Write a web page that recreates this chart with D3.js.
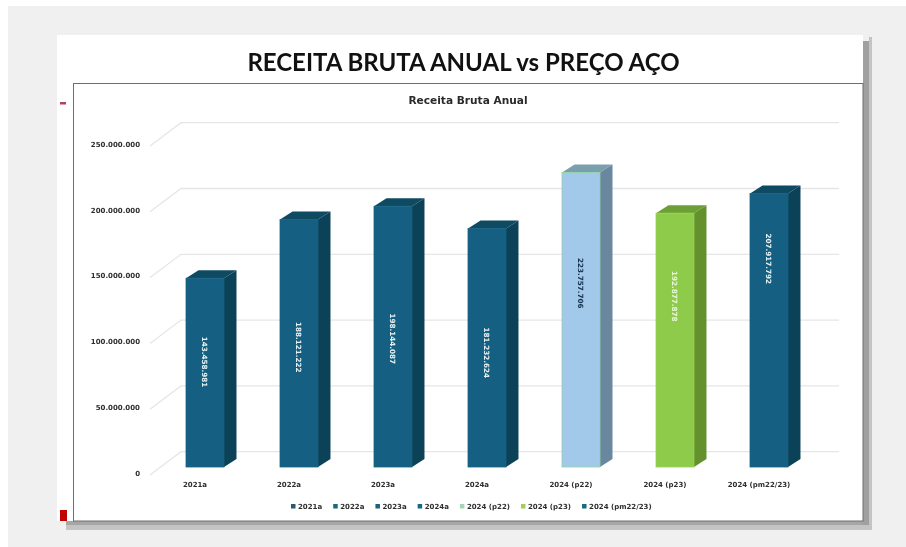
<!DOCTYPE html>
<html lang="pt">
<head>
<meta charset="UTF-8">
<title>Receita Bruta Anual</title>
<script src="https://d3js.org/d3.v7.min.js"></script>
<style>
    html, body { margin: 0; padding: 0; background: #fff; }
    svg { display: block; filter: blur(0.45px); }
    text { font-family: "DejaVu Sans", sans-serif; }
    .axisY text, .cat, .legend text { font-size: 7px; font-weight: bold; fill: #2e2e2e; }
    .axisY path { display: none; }
    .axisY line { display: none; }
    .val { font-size: 7.2px; font-weight: bold; }
</style>
</head>
<body>
<svg width="906" height="547"></svg>
<script>
    const categories = ['2021a', '2022a', '2023a', '2024a', '2024 (p22)', '2024 (p23)', '2024 (pm22/23)'];
    const values = [143458981, 188121222, 198144087, 181232624, 223757706, 192877878, 207917792];
    const yTicks = [0, 50000000, 100000000, 150000000, 200000000, 250000000];
    // how far up its bar each rotated label sits
    const labelAlong = [0.556, 0.484, 0.492, 0.479, 0.624, 0.673, 0.761];

    const faceColors = ['#156082', '#156082', '#156082', '#156082', '#a3c9ea', '#8ecb4a', '#156082'];
    const sideColors = ['#0c4257', '#0c4257', '#0c4257', '#0c4257', '#6a87a0', '#64902e', '#0c4257'];
    const topColors = ['#0f4a63', '#0f4a63', '#0f4a63', '#0f4a63', '#7aa0ae', '#6c9f34', '#0f4a63'];
    const edgeColors = ['#156082', '#156082', '#156082', '#156082', '#8ed2a6', '#9ad255', '#156082'];
    const labelColors = ['#e6f0f2', '#e6f0f2', '#e6f0f2', '#e6f0f2', '#17324d', '#e8f5d8', '#e6f0f2'];
    const legendColors = ['#2c5a6a', '#156b7f', '#1f6080', '#156b82', '#a4d6b6', '#a6cc5c', '#156b7f'];

    const svg = d3.select('svg');
    const dotted = d3.formatLocale({decimal: ',', thousands: '.', grouping: [3], currency: ['R$', '']}).format(',d');

    // page background and slide
    svg.append('rect').attr('x', -5).attr('y', -5).attr('width', 916).attr('height', 557).attr('fill', '#fff');
    svg.append('rect').attr('x', 8).attr('y', 6).attr('width', 903).attr('height', 546).attr('fill', '#f0f0f0');
    svg.append('rect').attr('x', 66).attr('y', 525).attr('width', 806).attr('height', 5).attr('fill', '#c4c4c4');
    svg.append('rect').attr('x', 869).attr('y', 37).attr('width', 3).attr('height', 493).attr('fill', '#c4c4c4');
    svg.append('rect').attr('x', 66).attr('y', 521).attr('width', 803).attr('height', 4).attr('fill', '#a6a6a6');
    svg.append('rect').attr('x', 863).attr('y', 41).attr('width', 6).attr('height', 484).attr('fill', '#a0a0a0');
    svg.append('rect').attr('x', 57).attr('y', 35).attr('width', 806).attr('height', 486).attr('fill', '#fff');

    svg.append('text').attr('x', 463.5).attr('y', 71).attr('text-anchor', 'middle')
        .style('font-family', 'Lato, sans-serif').style('font-weight', 'bold').style('font-size', '24px')
        .attr('fill', '#111').text('RECEITA BRUTA ANUAL vs PREÇO AÇO');

    svg.append('rect').attr('x', 73.5).attr('y', 83.5).attr('width', 789.5).attr('height', 437.5)
        .attr('fill', '#fff').attr('stroke', '#6e6e6e');

    svg.append('rect').attr('x', 60).attr('y', 102).attr('width', 6).attr('height', 2.5).attr('fill', '#b5405a');
    svg.append('rect').attr('x', 60).attr('y', 510).attr('width', 7).attr('height', 11).attr('fill', '#c00000');

    svg.append('text').attr('x', 468).attr('y', 104).attr('text-anchor', 'middle')
        .style('font-size', '10.6px').style('font-weight', 'bold').attr('fill', '#2a2a2a').text('Receita Bruta Anual');

    // scales, front plane of the bars
    const x = d3.scaleBand().domain(categories).range([158, 816]).paddingInner(0.596).paddingOuter(0.298);
    const y = d3.scaleLinear().domain([0, 250000000]).range([467, 138]);
    const depth = {x: 12.5, y: 8};
    const wall = {x0: 150, x1: 181, x2: 839, front: 8, back: -15.3};

    // 3D gridlines: floor diagonal then along the back wall
    svg.append('g').selectAll('path').data(yTicks).join('path')
        .attr('fill', 'none').attr('stroke', '#e6e6e6').attr('stroke-width', 1.3)
        .attr('d', function (d) {
            return d3.line()([[wall.x0, y(d) + wall.front], [wall.x1, y(d) + wall.back], [wall.x2, y(d) + wall.back]]);
        });

    svg.append('g').attr('class', 'axisY').attr('transform', 'translate(140,6)')
        .call(d3.axisLeft(y).tickValues(yTicks).tickFormat(dotted).tickSize(0).tickPadding(0));

    const rows = categories.map(function (c, i) { return {c: c, v: values[i], i: i}; });
    const w = x.bandwidth();
    const bars = svg.append('g').selectAll('g').data(rows).join('g');

    bars.append('path').attr('fill', function (d) { return topColors[d.i]; })
        .attr('d', function (d) {
            let l = x(d.c), t = y(d.v);
            return d3.line()([[l, t], [l + depth.x, t - depth.y], [l + w + depth.x, t - depth.y], [l + w, t]]) + 'Z';
        });
    bars.append('path').attr('fill', function (d) { return sideColors[d.i]; })
        .attr('d', function (d) {
            let r = x(d.c) + w, t = y(d.v), b = y(0);
            return d3.line()([[r, t], [r + depth.x, t - depth.y], [r + depth.x, b - depth.y], [r, b]]) + 'Z';
        });
    bars.append('rect')
        .attr('x', function (d) { return x(d.c); })
        .attr('y', function (d) { return y(d.v); })
        .attr('width', w)
        .attr('height', function (d) { return y(0) - y(d.v); })
        .attr('fill', function (d) { return faceColors[d.i]; })
        .attr('stroke', function (d) { return edgeColors[d.i]; })
        .attr('stroke-width', 0.8);

    bars.append('text').attr('class', 'val')
        .attr('text-anchor', 'middle').attr('dy', '0.35em')
        .attr('fill', function (d) { return labelColors[d.i]; })
        .attr('transform', function (d) {
            return 'translate(' + (x(d.c) + w / 2) + ',' + y(d.v * labelAlong[d.i]) + ') rotate(90)';
        })
        .text(function (d) { return dotted(d.v); });

    svg.append('g').selectAll('text').data(categories).join('text').attr('class', 'cat')
        .attr('text-anchor', 'middle').attr('y', 487)
        .attr('x', function (d) { return x(d) + w / 2 - 10; })
        .text(function (d) { return d; });

    // legend, laid out from the measured text widths
    const legend = svg.append('g').attr('class', 'legend');
    let cursor = 291;
    categories.forEach(function (c, i) {
        legend.append('rect').attr('x', cursor).attr('y', 504).attr('width', 4.5).attr('height', 4.5).attr('fill', legendColors[i]);
        let t = legend.append('text').attr('x', cursor + 7).attr('y', 509).text(c);
        cursor += 7 + t.node().getComputedTextLength() + 11;
    });
</script>
</body>
</html>
